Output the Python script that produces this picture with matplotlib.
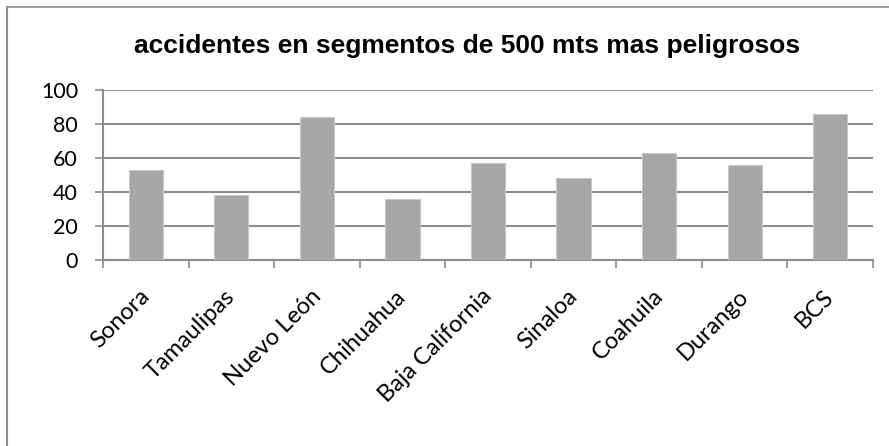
import matplotlib
matplotlib.use("Agg")
import matplotlib.pyplot as plt
from matplotlib.lines import Line2D
from matplotlib.transforms import ScaledTranslation

categories = ["Sonora", "Tamaulipas", "Nuevo León", "Chihuahua", "Baja California",
              "Sinaloa", "Coahuila", "Durango", "BCS"]
values = [53, 38, 84, 36, 57, 48, 63, 56, 86]
yticks = [0, 20, 40, 60, 80, 100]
title = "accidentes en segmentos de 500 mts mas peligrosos"

fig = plt.figure(figsize=(8.89, 4.46), dpi=100)
ax = fig.add_axes([103/889, 1-260/446, (873-103)/889, (260-90)/446])

grid_c = "#8c8c8c"
x = list(range(len(categories)))
ax.bar(x, values, width=0.4, color="#a6a6a6", edgecolor="#c8c8c8", linewidth=0.8, zorder=3)
ax.set_xlim(-0.5, len(categories)-0.5)
ax.set_ylim(0, 100)
ax.set_yticks(yticks)
ax.set_yticklabels([str(v) for v in yticks], fontfamily="Lato", fontsize=15.5)
ax.yaxis.grid(True, color=grid_c, linewidth=1.5, zorder=0)
ax.tick_params(axis="y", length=6, width=1.2, color=grid_c, pad=12)

ax.set_xticks([i - 0.5 for i in range(len(categories)+1)], minor=False)
ax.set_xticklabels([""]*(len(categories)+1))
ax.tick_params(axis="x", length=6, width=1.2, color=grid_c)
ax.set_xticks(x, minor=True)
ax.set_xticklabels(categories, minor=True, rotation=45, ha="right", va="top",
                   rotation_mode="anchor", fontfamily="Lato", fontsize=17)
ax.tick_params(axis="x", which="minor", length=0, pad=18.5)
offset = ScaledTranslation(-7/100, 0, fig.dpi_scale_trans)
for lbl in ax.get_xticklabels(minor=True):
    lbl.set_transform(lbl.get_transform() + offset)

for s in ["top", "right"]:
    ax.spines[s].set_visible(False)
for s in ["left", "bottom"]:
    ax.spines[s].set_color(grid_c)
    ax.spines[s].set_linewidth(1.5)

fig.text(467/889, 1-46/446, title, ha="center", va="center",
         fontfamily="Liberation Sans", fontweight="bold", fontsize=19)

fig.add_artist(Line2D([7/889, 7/889], [0, 1-6.5/446], transform=fig.transFigure,
                      color="#8c8c8c", linewidth=1.5))
fig.add_artist(Line2D([7/889, 1], [1-6.5/446, 1-6.5/446], transform=fig.transFigure,
                      color="#8c8c8c", linewidth=1.2))

fig.savefig("out.png", dpi=100)
